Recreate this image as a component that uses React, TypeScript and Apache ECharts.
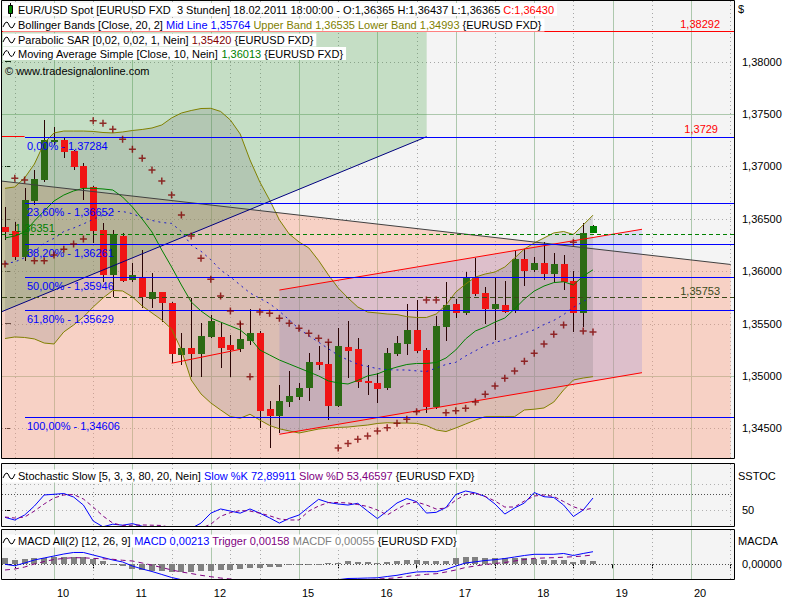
import React, { useEffect, useRef } from 'react';
import * as echarts from 'echarts';

const FAMILY = '"Liberation Sans", Arial, Helvetica, sans-serif';
const FONT = `11px ${FAMILY}`;

// ---------------- price data (3-hour bars, index 0..60) ----------------
const candleOpen = [
  1.36425, 1.36384, 1.36138, 1.36673, 1.3687, 1.37236, 1.37252, 1.37147, 1.37007, 1.36801,
  1.36393, 1.35967, 1.36339, 1.35916, 1.35947, 1.35735, 1.35804, 1.35699, 1.352, 1.35264,
  1.35209, 1.35375, 1.35369, 1.35295, 1.35257, 1.35336, 1.35413, 1.34684, 1.34617, 1.34754,
  1.34802, 1.34888, 1.35133, 1.35114, 1.34716, 1.35279, 1.35257, 1.34955, 1.34935, 1.34882,
  1.35209, 1.35305, 1.35439, 1.35248, 1.34706, 1.3547, 1.35687, 1.35598, 1.35938, 1.35795,
  1.35636, 1.35677, 1.3562, 1.36114, 1.36011, 1.36081, 1.35973, 1.36069, 1.35906, 1.35598,
  1.36365,
];
const candleClose = [
  1.36377, 1.36138, 1.3668, 1.3688, 1.37252, 1.37252, 1.37141, 1.36998, 1.36797, 1.36387,
  1.35967, 1.36355, 1.3591, 1.35964, 1.35751, 1.35804, 1.35699, 1.35209, 1.35264, 1.35209,
  1.35381, 1.35524, 1.35264, 1.35248, 1.3535, 1.35407, 1.34668, 1.34617, 1.34761, 1.34809,
  1.34888, 1.35133, 1.35107, 1.34716, 1.35286, 1.35241, 1.34945, 1.34935, 1.34875, 1.35216,
  1.35312, 1.35439, 1.35238, 1.34706, 1.35477, 1.35677, 1.35604, 1.35938, 1.35782, 1.35636,
  1.35687, 1.35613, 1.36114, 1.36005, 1.36081, 1.35973, 1.36069, 1.359, 1.35598, 1.36367,
  1.3643,
];
const candleHigh = [
  1.36616, 1.36472, 1.36791, 1.36966, 1.37443, 1.37379, 1.37281, 1.37157, 1.3703, 1.36813,
  1.36457, 1.36393, 1.36365, 1.36075, 1.36202, 1.3598, 1.35804, 1.35709, 1.35413, 1.35741,
  1.35508, 1.35582, 1.35508, 1.35391, 1.35518, 1.35636, 1.35429, 1.34761, 1.34914, 1.35047,
  1.34935, 1.35216, 1.35289, 1.35327, 1.3546, 1.35527, 1.35359, 1.35104, 1.35025, 1.35264,
  1.35381, 1.35687, 1.35725, 1.35264, 1.35572, 1.359, 1.35732, 1.35995, 1.36123, 1.35846,
  1.35942, 1.35906, 1.36193, 1.36209, 1.36133, 1.36282, 1.36171, 1.36155, 1.36005, 1.36463,
  1.36437,
];
const candleLow = [
  1.36298, 1.36107, 1.361, 1.3663, 1.36851, 1.37205, 1.37078, 1.36966, 1.3668, 1.36266,
  1.359, 1.35756, 1.35897, 1.359, 1.35646, 1.35646, 1.35518, 1.35121, 1.35104, 1.34993,
  1.34993, 1.35362, 1.35073, 1.34993, 1.35229, 1.35295, 1.34506, 1.34311, 1.34455, 1.34706,
  1.3477, 1.34761, 1.35057, 1.34579, 1.34706, 1.34977, 1.34882, 1.34818, 1.34744, 1.34866,
  1.3519, 1.352, 1.35222, 1.34643, 1.34681, 1.35336, 1.3555, 1.35582, 1.35763, 1.35496,
  1.35343, 1.35601, 1.35601, 1.35859, 1.35992, 1.35916, 1.359, 1.3582, 1.35422, 1.3547,
  1.36365,
];

// ---------------- indicators ----------------
const bbUpper = [
  1.36791, 1.36804, 1.3689, 1.37023, 1.37224, 1.3732, 1.37338, 1.37338, 1.37338, 1.37334,
  1.37324, 1.3732, 1.37329, 1.37343, 1.37353, 1.37367, 1.37396, 1.37463, 1.3751, 1.37534,
  1.37553, 1.37555, 1.37525, 1.37443, 1.3731, 1.37062, 1.36852, 1.3668, 1.36489, 1.36355,
  1.36279, 1.36222, 1.36102, 1.35964, 1.3584, 1.35744, 1.35658, 1.3561, 1.35601, 1.35591,
  1.35586, 1.35566, 1.35558, 1.35558, 1.35591, 1.35677, 1.35801, 1.35877, 1.35944, 1.35973,
  1.35992, 1.3604, 1.36126, 1.36212, 1.36269, 1.36317, 1.36365, 1.36379, 1.3635, 1.36441,
  1.36535,
];
const bbLower = [
  1.35357, 1.35372, 1.35367, 1.35353, 1.35314, 1.35305, 1.3542, 1.35486, 1.35563, 1.35658,
  1.35744, 1.35816, 1.35811, 1.35754, 1.35668, 1.35601, 1.35534, 1.35448, 1.35248, 1.34961,
  1.34828, 1.34742, 1.34675, 1.34611, 1.34596, 1.34634, 1.34579, 1.34527, 1.34495, 1.34475,
  1.34455, 1.34474, 1.34493, 1.34503, 1.34508, 1.34512, 1.34522, 1.34531, 1.34546, 1.34553,
  1.3455, 1.3455, 1.34547, 1.34526, 1.34484, 1.34469, 1.34503, 1.34541, 1.34579, 1.34611,
  1.34611, 1.34611, 1.34611, 1.34675, 1.34682, 1.34694, 1.34751, 1.34866, 1.34961, 1.3498,
  1.34993,
];
const bbMid = [
  1.36074, 1.36088, 1.36129, 1.36188, 1.36269, 1.36313, 1.36379, 1.36412, 1.36451, 1.36496,
  1.36534, 1.36568, 1.3657, 1.36549, 1.36511, 1.36484, 1.36465, 1.36456, 1.36379, 1.36248,
  1.3619, 1.3611, 1.36011, 1.35945, 1.35868, 1.35792, 1.3574, 1.3569, 1.35618, 1.35535,
  1.35448, 1.35385, 1.35322, 1.3526, 1.35196, 1.35152, 1.35112, 1.3509, 1.3507, 1.3506,
  1.35057, 1.35057, 1.35048, 1.35042, 1.35075, 1.3511, 1.3513, 1.3519, 1.3524, 1.3529,
  1.3532, 1.35345, 1.35375, 1.3541, 1.3544, 1.3549, 1.3553, 1.35585, 1.35655, 1.3571,
  1.35764,
];
const sma10 = [
  1.36317, 1.36336, 1.36374, 1.36479, 1.36575, 1.3667, 1.36727, 1.36766, 1.36791, 1.36791,
  1.36785, 1.36775, 1.36708, 1.36613, 1.36498, 1.36374, 1.36202, 1.3604, 1.35868, 1.35706,
  1.3562, 1.35553, 1.35514, 1.35477, 1.35439, 1.35362, 1.35248, 1.352, 1.35152, 1.35114,
  1.35076, 1.35038, 1.35, 1.34952, 1.34933, 1.34923, 1.34957, 1.35, 1.35019, 1.35057,
  1.35085, 1.35109, 1.35119, 1.35119, 1.35128, 1.35171, 1.35248, 1.35353, 1.35429, 1.35467,
  1.35514, 1.35553, 1.35639, 1.35734, 1.3581, 1.35858, 1.35891, 1.35899, 1.35868, 1.35954,
  1.36013,
];
const sar = [
  1.36069, 1.36887, 1.36871, 1.361, 1.361, 1.36155, 1.36209, 1.3626, 1.36307, 1.37437,
  1.37412, 1.37355, 1.37259, 1.37164, 1.37078, 1.36966, 1.36861, 1.36727, 1.36536, 1.36336,
  1.36123, 1.35923, 1.35763, 1.3562, 1.35496, 1.34993, 1.3561, 1.35598, 1.3555, 1.35503,
  1.35455, 1.35407, 1.35359, 1.35321, 1.34312, 1.34355, 1.34395, 1.34427, 1.34474, 1.34506,
  1.34548, 1.34586, 1.34659, 1.35725, 1.35725, 1.34649, 1.34668, 1.34691, 1.34751, 1.34825,
  1.34904, 1.34977, 1.35047, 1.3514, 1.35216, 1.35305, 1.35398, 1.35486, 1.36276, 1.35429,
  1.3542,
];
const stochK = [
  36, 30.9, 40.4, 57.6, 78.7, 80, 81.5, 74.8, 59.5, 29,
  18, 23, 21, 24, 19, 14, 10, 8, 10, 15,
  25, 44, 52, 48, 44, 52, 44, 35, 25, 34,
  40.4, 55.7, 70.4, 64.3, 61.5, 59.5, 62.8, 48, 33.7, 48,
  63.4, 72, 65.9, 44.2, 45.6, 54.8, 79.6, 86.3, 82.5, 75.8,
  61.5, 42.3, 53.8, 63.4, 83.4, 75.4, 73.9, 59.5, 37.6, 50,
  72.9,
];
const stochD = [
  36.6, 34.7, 36.6, 48, 61.5, 73, 78.7, 79.6, 71, 55.7,
  38.5, 25, 20.5, 21, 21.5, 21, 20.5, 16, 12, 11,
  15, 23, 38, 45, 49, 48, 44, 39, 33, 31,
  31, 48, 57.6, 64.3, 64.3, 63.4, 60.5, 56.7, 50, 40.4,
  51.9, 61.5, 65.3, 59.5, 51.9, 53.8, 69, 79.6, 82, 75.8,
  67.2, 55.7, 55.7, 67.2, 76.7, 78.7, 75.8, 66.2, 56.3, 50,
  53.47,
];
const macdLine = [
  0, -0.00024, 0.00022, 0.00073, 0.00107, 0.0014, 0.00174, 0.002, 0.002, 0.00157,
  0.00115, 0.00073, 0.00039, -0.00029, -0.00079, -0.00122, -0.00172, -0.00223, -0.0026, -0.0029,
  -0.0031, -0.0032, -0.0033, -0.0034, -0.0035, -0.0036, -0.0036, -0.0036, -0.0036, -0.0034,
  -0.0033, -0.0031, -0.003, -0.0028, -0.0026, -0.0024, -0.00237, -0.00232, -0.00228, -0.00206,
  -0.00186, -0.00156, -0.0013, -0.00125, -0.00125, -0.00088, -0.00029, 0.00022, 0.00042, 0.00064,
  0.00078, 0.00098, 0.00123, 0.00149, 0.00169, 0.00169, 0.00169, 0.00183, 0.00149, 0.00183,
  0.00213,
];
const macdTrigger = [
  -0.00096, -0.0008, -0.00046, 0.00005, 0.00047, 0.00081, 0.001, 0.00112, 0.0011, 0.001,
  0.00093, 0.00085, 0.00068, 0.00056, 0.00022, -0.00015, -0.00054, -0.00096, -0.0013, -0.00156,
  -0.00186, -0.0021, -0.00232, -0.00249, -0.0027, -0.0029, -0.003, -0.0031, -0.0032, -0.0032,
  -0.0032, -0.0031, -0.003, -0.0029, -0.0028, -0.0028, -0.0027, -0.0026, -0.00249, -0.0024,
  -0.00228, -0.00206, -0.00186, -0.00169, -0.00159, -0.0013, -0.00096, -0.00054, -0.00029, -0.00003,
  0.00014, 0.0003, 0.00056, 0.00081, 0.001, 0.00107, 0.00112, 0.0012, 0.00128, 0.0014,
  0.00158,
];
const macdHist = [
  0.001, 0.0008, 0.0009, 0.001, 0.0011, 0.0012, 0.0013, 0.0013, 0.0012, 0.0009,
  0.0005, 0.0001, -0.0003, -0.0008, -0.001, -0.0011, -0.0012, -0.0013, -0.0013, -0.0013,
  -0.0012, -0.0011, -0.001, -0.0009, -0.0008, -0.0007, -0.0006, -0.0005, -0.0004, -0.0002,
  -0.0001, 0, 0.0001, 0.0002, 0.0003, 0.0005, 0.0004, 0.0004, 0.0003, 0.0004,
  0.0005, 0.0007, 0.0008, 0.0006, 0.0005, 0.0006, 0.0011, 0.0013, 0.0012, 0.0011,
  0.001, 0.001, 0.001, 0.001, 0.0009, 0.0008, 0.0008, 0.0008, 0.0004, 0.0007,
  0.00055,
];

// ---------------- drawings (bar index, price) ----------------
const salmonZone = [[-0.34, 1.3686], [74.05, 1.36064], [74.05, 1.3421], [-0.34, 1.3421]];
const greenZone = [[-0.34, 1.38292], [43.03, 1.38292], [43.03, 1.37284], [-0.34, 1.35613]];
const channelZone = [[28, 1.3582], [65, 1.364], [65, 1.35031], [28, 1.34443]];
const descLine = [[-0.34, 1.3686], [74.05, 1.36064]];
const diagLine = [[-0.34, 1.35613], [43.03, 1.37284]];
const chanUpper = [[28, 1.3582], [65, 1.364]];
const chanLower = [[28, 1.34443], [65, 1.35031]];
const shortTrend = [[17, 1.35121], [24, 1.35254]];
const redLevels = [1.38292, 1.3729];
const redLevelEnds = [74.388, 2];
const redLevelLabels = ['1,38292', '1,3729'];
const greenLevel = 1.36351;
const greenLevelLabel = '1,36351';
const darkLevel = 1.35753;
const darkLevelLabel = '1,35753';
const fibStartIdx = 2;
const fibLevels = [1.37284, 1.36652, 1.36261, 1.35946, 1.35629, 1.34606];
const fibLabels = ['0,00% - 1,37284', '23,60% - 1,36652', '38,20% - 1,36261', '50,00% - 1,35946', '61,80% - 1,35629', '100,00% - 1,34606'];

// ---------------- axes ----------------
const dayTickIdx = [5, 13, 21, 30, 38, 46, 54, 62, 70];
const dayLabels = ['10', '11', '12', '15', '16', '17', '18', '19', '20'];
const halfTickIdx = [1, 9, 17, 23, 26, 34, 42, 50, 58, 66, 74];
const priceTicks = [1.345, 1.35, 1.355, 1.36, 1.365, 1.37, 1.375, 1.38];
const priceMajorLines = [1.35, 1.375];
const priceMinorLines = [1.345, 1.355, 1.36, 1.365, 1.37, 1.38];
const stochTicks = [50];
const stochLightLines = [100, 50];
const stochDarkLines = [80];
const macdTicks = [0];

const X_MIN = -0.306;
const X_MAX = 74.388;
const P_MIN = 1.342164;
const P_MAX = 1.385795;
const S_MIN = 19.5;
const S_MAX = 137.8;
const M_MIN = -0.002485;
const M_MAX = 0.0058;

const GRID_SOLID = '#adc8ad';
const GRID_DOT = '#a6a6a6';
const FIB_BLUE = '#0000ff';

const pairs = (arr: number[]) => arr.map((v, i) => [i, v]);
const comma = (v: number, d: number) => v.toFixed(d).replace('.', ',');

function gridLinesSeries(k: number, yRef: number, hLines: any[]) {
  return {
    type: 'custom', xAxisIndex: k, yAxisIndex: k, z: 1, silent: true, clip: true,
    data: [[10, yRef]],
    renderItem: (params: any, api: any) => {
      const cs = params.coordSys;
      const ch: any[] = [];
      const vline = (v: number, stroke: string, dash: any) => {
        const px = Math.round(api.coord([v, yRef])[0]) + 0.5;
        ch.push({ type: 'line', shape: { x1: px, y1: cs.y, x2: px, y2: cs.y + cs.height }, style: { stroke, lineWidth: 1, lineDash: dash } });
      };
      dayTickIdx.forEach((v) => vline(v, GRID_SOLID, null));
      halfTickIdx.forEach((v) => vline(v, GRID_DOT, [1, 3]));
      hLines.forEach((h) => {
        const py = Math.round(api.coord([0, h.v])[1]) + 0.5;
        ch.push({ type: 'line', shape: { x1: cs.x, y1: py, x2: cs.x + cs.width, y2: py }, style: { stroke: h.c, lineWidth: 1, lineDash: h.d || null } });
      });
      return { type: 'group', children: ch };
    },
  };
}

function lineSeries(k: number, data: number[], color: string, type: any, z: number) {
  return {
    type: 'line', xAxisIndex: k, yAxisIndex: k, data: pairs(data), showSymbol: false, symbol: 'none',
    silent: true, z, lineStyle: { color, width: 1, type }, clip: true,
  };
}

function squiggle(y: number) {
  return {
    type: 'polyline', z: 101, silent: true,
    shape: { points: [[3, y + 2], [5, y - 2], [7, y - 3], [8, y - 2], [10, y + 2], [12, y + 3], [13, y + 2], [15, y - 2]] },
    style: { stroke: '#000', lineWidth: 1, fill: null },
  };
}

const RICH: any = {
  k: { fill: '#000', fontSize: 11, fontFamily: FAMILY },
  r: { fill: '#ff0000', fontSize: 11, fontFamily: FAMILY },
  b: { fill: '#0000ff', fontSize: 11, fontFamily: FAMILY },
  o: { fill: '#808000', fontSize: 11, fontFamily: FAMILY },
  m: { fill: '#800000', fontSize: 11, fontFamily: FAMILY },
  g: { fill: '#008000', fontSize: 11, fontFamily: FAMILY },
  p: { fill: '#800080', fontSize: 11, fontFamily: FAMILY },
  gr: { fill: '#808080', fontSize: 11, fontFamily: FAMILY },
};

function headerText(y: number, text: string, bg: boolean) {
  return {
    type: 'text', x: 3, y, z: 100, silent: true,
    style: {
      text, rich: RICH, font: FONT, fill: '#000', verticalAlign: 'middle',
      backgroundColor: bg ? '#ffffff' : null, padding: [1, 3, 1, 15],
    },
  };
}

function plainText(x: number, y: number, text: string) {
  return { type: 'text', x, y, z: 100, silent: true, style: { text, font: FONT, fill: '#000', verticalAlign: 'middle' } };
}

function buildOption(): any {
  const allTicks = [...dayTickIdx, ...halfTickIdx].sort((a, b) => a - b);
  const lastIdx = candleOpen.length - 1;
  const axisFont = { color: '#000', fontSize: 11, fontFamily: FAMILY };

  return {
    animation: false,
    grid: [
      { left: 2, top: 1, width: 732, height: 457, show: true, backgroundColor: '#f4f4f4', borderWidth: 0 },
      { left: 2, top: 464, width: 732, height: 62, show: true, backgroundColor: '#f4f4f4', borderWidth: 0 },
      { left: 2, top: 530, width: 732, height: 49, show: true, backgroundColor: '#f4f4f4', borderWidth: 0 },
    ],
    xAxis: [
      { gridIndex: 0, type: 'value', min: X_MIN, max: X_MAX, show: false },
      { gridIndex: 1, type: 'value', min: X_MIN, max: X_MAX, show: false },
      {
        gridIndex: 2, type: 'value', min: X_MIN, max: X_MAX, position: 'bottom', offset: 5,
        axisLine: { show: false }, splitLine: { show: false },
        axisTick: { show: true, customValues: allTicks, length: 4, lineStyle: { color: '#000', width: 1 } },
        axisLabel: {
          show: true, customValues: dayTickIdx, margin: 3, align: 'left', padding: [0, 0, 0, 3], ...axisFont,
          formatter: (v: number) => { const k = dayTickIdx.indexOf(Math.round(v)); return k >= 0 ? dayLabels[k] : ''; },
        },
      },
    ],
    yAxis: [
      {
        gridIndex: 0, type: 'value', position: 'right', min: P_MIN, max: P_MAX,
        axisLine: { show: false }, splitLine: { show: false },
        axisTick: { show: true, customValues: priceTicks, length: 6, lineStyle: { color: '#000' } },
        axisLabel: { customValues: priceTicks, margin: 8, formatter: (v: number) => comma(v, 5), ...axisFont },
      },
      {
        gridIndex: 1, type: 'value', position: 'right', min: S_MIN, max: S_MAX,
        axisLine: { show: false }, splitLine: { show: false },
        axisTick: { show: true, customValues: stochTicks, length: 6, lineStyle: { color: '#000' } },
        axisLabel: { customValues: stochTicks, margin: 8, formatter: (v: number) => String(Math.round(v)), ...axisFont },
      },
      {
        gridIndex: 2, type: 'value', position: 'right', min: M_MIN, max: M_MAX,
        axisLine: { show: false }, splitLine: { show: false },
        axisTick: { show: true, customValues: macdTicks, length: 6, lineStyle: { color: '#000' } },
        axisLabel: { customValues: macdTicks, margin: 8, formatter: (v: number) => comma(Math.abs(v) < 1e-12 ? 0 : v, 5), ...axisFont },
      },
    ],
    series: [
      // ---- main panel ----
      gridLinesSeries(0, 1.36, [
        ...priceMajorLines.map((v) => ({ v, c: GRID_SOLID })),
        ...priceMinorLines.map((v) => ({ v, c: GRID_DOT, d: [1, 3] })),
      ]),
      {
        type: 'custom', xAxisIndex: 0, yAxisIndex: 0, z: 2, silent: true, clip: true,
        data: [[10, 1.36]],
        renderItem: (params: any, api: any) => {
          const pts = (arr: number[][]) => arr.map((p) => api.coord(p));
          const band = [
            ...bbUpper.map((v, i) => api.coord([i, v])),
            ...bbLower.map((v, i) => api.coord([i, v])).reverse(),
          ];
          return {
            type: 'group',
            children: [
              { type: 'polygon', shape: { points: pts(salmonZone) }, style: { fill: 'rgba(250,160,130,0.42)' } },
              { type: 'polygon', shape: { points: pts(greenZone) }, style: { fill: 'rgba(60,160,60,0.26)' } },
              { type: 'polygon', shape: { points: pts(channelZone) }, style: { fill: 'rgba(120,120,230,0.2)' } },
              { type: 'polygon', shape: { points: band }, style: { fill: 'rgba(110,110,110,0.2)' } },
            ],
          };
        },
      },
      {
        type: 'custom', xAxisIndex: 0, yAxisIndex: 0, z: 3, silent: true, clip: true,
        encode: { x: 0, y: [1, 2, 3, 4] },
        data: candleOpen.map((o, i) => [i, o, candleClose[i], candleLow[i], candleHigh[i]]),
        renderItem: (params: any, api: any) => {
          const i = api.value(0);
          const o = api.value(1), c = api.value(2), l = api.value(3), h = api.value(4);
          const pO = api.coord([i, o]), pC = api.coord([i, c]), pL = api.coord([i, l]), pH = api.coord([i, h]);
          const x = Math.round(pO[0]);
          const top = Math.round(Math.min(pO[1], pC[1]));
          const bot = Math.round(Math.max(pO[1], pC[1]));
          const up = c >= o;
          const color = i === lastIdx ? '#008000' : up ? '#2c6a14' : '#f01414';
          return {
            type: 'group',
            children: [
              { type: 'line', shape: { x1: x + 0.5, y1: Math.round(pH[1]), x2: x + 0.5, y2: Math.round(pL[1]) }, style: { stroke: '#2a0404', lineWidth: 1 } },
              { type: 'rect', shape: { x: x - 3, y: top, width: 7, height: Math.max(2, bot - top) }, style: { fill: color } },
            ],
          };
        },
      },
      lineSeries(0, bbUpper, '#808000', 'solid', 4),
      lineSeries(0, bbLower, '#808000', 'solid', 4),
      lineSeries(0, bbMid, '#1a1acc', [2, 4], 4),
      lineSeries(0, sma10, '#008000', 'solid', 4),
      {
        type: 'custom', xAxisIndex: 0, yAxisIndex: 0, z: 5, silent: true, clip: true,
        data: [[10, 1.36]],
        renderItem: (params: any, api: any) => {
          const cs = params.coordSys;
          const right = cs.x + cs.width;
          const ch: any[] = [];
          const yOf = (v: number) => Math.round(api.coord([0, v])[1]);
          const seg = (p: number[][], stroke: string) => {
            const a = api.coord(p[0]);
            const b = api.coord(p[1]);
            ch.push({ type: 'line', shape: { x1: a[0], y1: a[1], x2: b[0], y2: b[1] }, style: { stroke, lineWidth: 1 } });
          };
          // solid horizontal lines as 1px filled rects (crisp)
          const hbar = (x1: number, v: number, fill: string, x2?: number) => {
            const y = yOf(v);
            const xe = x2 === undefined ? right : x2;
            ch.push({ type: 'rect', shape: { x: x1, y, width: xe - x1, height: 1 }, style: { fill } });
            return y + 0.5;
          };
          const hdash = (v: number, stroke: string, dash: number[]) => {
            const y = yOf(v) + 0.5;
            ch.push({ type: 'line', shape: { x1: cs.x, y1: y, x2: right, y2: y }, style: { stroke, lineWidth: 1, lineDash: dash } });
            return y;
          };
          const label = (x: number, y: number, text: string, fill: string, align: string) => {
            ch.push({ type: 'text', x, y, style: { text, fill, font: FONT, align, verticalAlign: 'middle' } });
          };
          seg(descLine, '#404040');
          seg(diagLine, '#000080');
          seg(chanUpper, '#ff0000');
          seg(chanLower, '#ff0000');
          seg(shortTrend, '#ff0000');
          const redInset = [14, 16];
          redLevels.forEach((v, k) => {
            const endX = api.coord([redLevelEnds[k], v])[0];
            const y = hbar(cs.x, v, '#ff0000', endX);
            label(right - redInset[k], y - 8, redLevelLabels[k], '#ff0000', 'right');
          });
          const gy = hdash(greenLevel, '#008000', [4, 3]);
          label(cs.x + 13, gy - 7, greenLevelLabel, '#008000', 'left');
          const dy = hdash(darkLevel, '#3a4a1a', [5, 3]);
          label(right - 14, dy - 7, darkLevelLabel, '#3a4a1a', 'right');
          const fx = Math.round(api.coord([fibStartIdx, 1.36])[0]);
          fibLevels.forEach((v, k) => {
            const y = hbar(fx, v, FIB_BLUE);
            label(fx + 2, y + 8, fibLabels[k], '#0000ff', 'left');
          });
          return { type: 'group', children: ch };
        },
      },
      {
        type: 'scatter', xAxisIndex: 0, yAxisIndex: 0, z: 6, silent: true,
        data: pairs(sar),
        symbol: 'path://M2.75,0h1.5v2.75h2.75v1.5h-2.75v2.75h-1.5v-2.75h-2.75v-1.5h2.75z',
        symbolSize: 7,
        itemStyle: { color: '#800000' },
      },
      // ---- stochastic ----
      gridLinesSeries(1, 50, [
        ...stochLightLines.map((v) => ({ v, c: '#b0b0b0', d: [1, 3] })),
        ...stochDarkLines.map((v) => ({ v, c: '#505050', d: [1, 2] })),
      ]),
      lineSeries(1, stochK, '#0000ff', 'solid', 4),
      lineSeries(1, stochD, '#800080', [4, 3], 4),
      // ---- MACD ----
      gridLinesSeries(2, 0, macdTicks.map((v) => ({ v, c: '#505050', d: [1, 2] }))),
      {
        type: 'custom', xAxisIndex: 2, yAxisIndex: 2, z: 3, silent: true, clip: true,
        data: pairs(macdHist),
        renderItem: (params: any, api: any) => {
          const i = api.value(0);
          const v = api.value(1);
          const p0 = api.coord([i, 0]);
          const p1 = api.coord([i, v]);
          const x = Math.round(p0[0]);
          const y0 = Math.round(p0[1]);
          const y1 = Math.round(p1[1]);
          const top = Math.min(y0, y1);
          return { type: 'rect', shape: { x: x - 3, y: top, width: 6, height: Math.max(1, Math.abs(y1 - y0)) }, style: { fill: '#808080' } };
        },
      },
      lineSeries(2, macdLine, '#0000ff', 'solid', 4),
      lineSeries(2, macdTrigger, '#800080', [5, 4], 4),
    ],
    graphic: [
      { type: 'rect', z: 102, silent: true, shape: { x: 1.5, y: 0.5, width: 733, height: 458 }, style: { fill: null, stroke: '#000', lineWidth: 1 } },
      { type: 'rect', z: 102, silent: true, shape: { x: 1.5, y: 463.5, width: 733, height: 63 }, style: { fill: null, stroke: '#000', lineWidth: 1 } },
      { type: 'rect', z: 102, silent: true, shape: { x: 1.5, y: 529.5, width: 733, height: 50 }, style: { fill: null, stroke: '#000', lineWidth: 1 } },
      headerText(9.5, '{k|EUR/USD Spot [EURUSD FXD  3 Stunden] 18.02.2011 18:00:00 - O:1,36365 H:1,36437 L:1,36365 }{r|C:1,36430}', true),
      headerText(25, '{k|Bollinger Bands [Close, 20, 2] }{b|Mid Line 1,35764}{o| Upper Band 1,36535 Lower Band 1,34993}{k| {EURUSD FXD}}', true),
      headerText(40, '{k|Parabolic SAR [0,02, 0,02, 1, Nein] }{m|1,35420}{k| {EURUSD FXD}}', true),
      headerText(53.5, '{k|Moving Average Simple [Close, 10, Nein] }{g|1,36013}{k| {EURUSD FXD}}', true),
      plainText(5, 70.5, '© www.tradesignalonline.com'),
      headerText(476, '{k|Stochastic Slow [5, 3, 3, 80, 20, Nein] }{b|Slow %K 72,89911}{p| Slow %D 53,46597}{k| {EURUSD FXD}}', true),
      headerText(541, '{k|MACD All(2) [12, 26, 9] }{b|MACD 0,00213}{p| Trigger 0,00158}{gr| MACDF 0,00055}{k| {EURUSD FXD}}', true),
      { type: 'line', z: 101, silent: true, shape: { x1: 10.5, y1: 3, x2: 10.5, y2: 17 }, style: { stroke: '#000', lineWidth: 1 } },
      { type: 'rect', z: 101, silent: true, shape: { x: 8.5, y: 5.5, width: 4, height: 8 }, style: { fill: '#008000', stroke: '#000', lineWidth: 1 } },
      squiggle(25),
      squiggle(40),
      squiggle(53.5),
      squiggle(476),
      squiggle(541),
      plainText(738, 9, '$'),
      plainText(738, 476, 'SSTOC'),
      plainText(738, 541, 'MACDA'),
    ],
  };
}

export default function App() {
  const ref = useRef<HTMLDivElement>(null);
  useEffect(() => {
    const chart = echarts.init(ref.current as HTMLDivElement, null, { renderer: 'svg' });
    chart.setOption(buildOption());
    return () => chart.dispose();
  }, []);
  return (
    <div
      ref={ref}
      style={{ position: 'fixed', left: 0, top: 0, width: 800, height: 600, background: '#ffffff' }}
    />
  );
}
